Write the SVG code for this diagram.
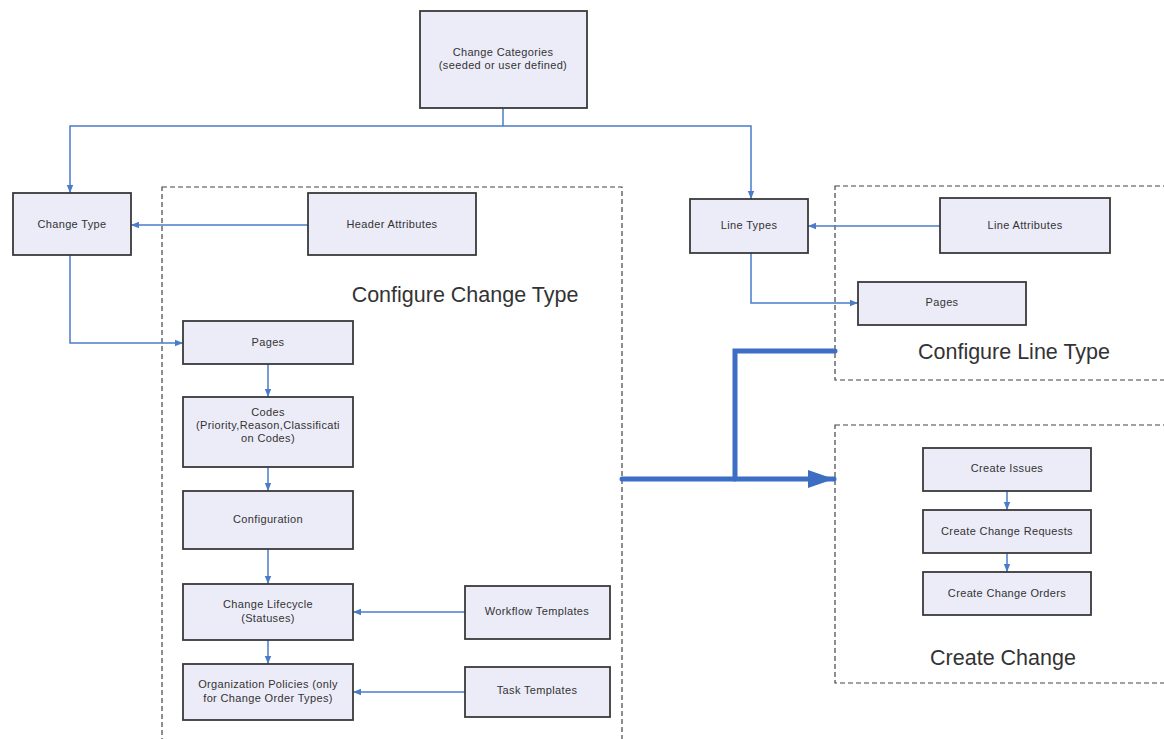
<svg xmlns="http://www.w3.org/2000/svg" width="1164" height="739" viewBox="0 0 1164 739">
<style>
.box{fill:#ececf8;stroke:#3a3a3a;stroke-width:1.8}
.t{font-family:"Liberation Sans",Arial,sans-serif;font-size:11px;letter-spacing:0.35px;fill:#333;text-anchor:middle}
.big{font-family:"Liberation Sans",Arial,sans-serif;font-size:21.5px;fill:#333;text-anchor:middle}
.grp{fill:none;stroke:#444;stroke-width:1.2;stroke-dasharray:5 3}
.c{fill:none;stroke:#4a7cc8;stroke-width:1.5}
.thick{fill:none;stroke:#3c6fc4;stroke-width:5;stroke-linecap:round;stroke-linejoin:miter}
</style>
<defs>
<marker id="a" viewBox="0 0 10 10" refX="10" refY="5" markerWidth="8" markerHeight="8" orient="auto" markerUnits="userSpaceOnUse">
<path d="M0,1 L10,5 L0,9 z" fill="#4a7cc8"/>
</marker>
<marker id="A" viewBox="0 0 10 10" refX="10" refY="5" markerWidth="26" markerHeight="18" orient="auto" markerUnits="userSpaceOnUse" preserveAspectRatio="none">
<path d="M0,0 L10,5 L0,10 z" fill="#3c6fc4"/>
</marker>
</defs>
<rect width="1164" height="739" fill="#fff"/>

<g id="containers">
<rect id="cfg-change-type" class="grp" x="162" y="187" width="460" height="570"/>
<text class="big" x="465" y="302">Configure Change Type</text>
<rect id="cfg-line-type" class="grp" x="835" y="186" width="340" height="194"/>
<text class="big" x="1014" y="359">Configure Line Type</text>
<rect id="create-change" class="grp" x="835" y="425" width="340" height="258"/>
<text class="big" x="1003" y="665">Create Change</text>
</g>

<g id="connectors">
<path class="c" d="M503,108 V126"/>
<path class="c" d="M503,126 H70 V193" marker-end="url(#a)"/>
<path class="c" d="M503,126 H751 V199" marker-end="url(#a)"/>
<path class="c" d="M308,225 H131" marker-end="url(#a)"/>
<path class="c" d="M70,255 V343 H183" marker-end="url(#a)"/>
<path class="c" d="M268,364 V397" marker-end="url(#a)"/>
<path class="c" d="M268,467 V491" marker-end="url(#a)"/>
<path class="c" d="M268,549 V584" marker-end="url(#a)"/>
<path class="c" d="M268,640 V664" marker-end="url(#a)"/>
<path class="c" d="M465,612 H353" marker-end="url(#a)"/>
<path class="c" d="M465,692 H353" marker-end="url(#a)"/>
<path class="c" d="M940,226 H808" marker-end="url(#a)"/>
<path class="c" d="M751,253 V303 H858" marker-end="url(#a)"/>
<path class="c" d="M1007,491 V510" marker-end="url(#a)"/>
<path class="c" d="M1007,553 V572" marker-end="url(#a)"/>
<path class="thick" d="M622,479 H834" marker-end="url(#A)"/>
<path class="thick" d="M735,479 V351 H835"/>
</g>

<g id="change-categories"><rect class="box" x="420" y="11" width="167" height="97"/>
<text class="t" x="503" y="56">Change Categories</text><text class="t" x="503" y="69">(seeded or user defined)</text></g>
<g id="change-type"><rect class="box" x="13" y="193" width="118" height="62"/>
<text class="t" x="72" y="228">Change Type</text></g>
<g id="header-attributes"><rect class="box" x="308" y="193" width="168" height="62"/>
<text class="t" x="392" y="228">Header Attributes</text></g>
<g id="pages-left"><rect class="box" x="183" y="321" width="170" height="43"/>
<text class="t" x="268" y="346">Pages</text></g>
<g id="codes"><rect class="box" x="183" y="397" width="170" height="70"/>
<text class="t" x="268" y="416">Codes</text><text class="t" x="268" y="429">(Priority,Reason,Classificati</text><text class="t" x="268" y="442">on Codes)</text></g>
<g id="configuration"><rect class="box" x="183" y="491" width="170" height="58"/>
<text class="t" x="268" y="523">Configuration</text></g>
<g id="change-lifecycle"><rect class="box" x="183" y="584" width="170" height="56"/>
<text class="t" x="268" y="608">Change Lifecycle</text><text class="t" x="268" y="622">(Statuses)</text></g>
<g id="org-policies"><rect class="box" x="183" y="664" width="170" height="56"/>
<text class="t" x="268" y="688">Organization Policies (only</text><text class="t" x="268" y="702">for Change Order Types)</text></g>
<g id="workflow-templates"><rect class="box" x="465" y="586" width="145" height="53"/>
<text class="t" x="537" y="615">Workflow Templates</text></g>
<g id="task-templates"><rect class="box" x="465" y="667" width="145" height="50"/>
<text class="t" x="537" y="694">Task Templates</text></g>
<g id="line-types"><rect class="box" x="690" y="199" width="118" height="54"/>
<text class="t" x="749" y="229">Line Types</text></g>
<g id="line-attributes"><rect class="box" x="940" y="198" width="170" height="55"/>
<text class="t" x="1025" y="229">Line Attributes</text></g>
<g id="pages-right"><rect class="box" x="858" y="282" width="168" height="43"/>
<text class="t" x="942" y="306">Pages</text></g>
<g id="create-issues"><rect class="box" x="923" y="448" width="168" height="43"/>
<text class="t" x="1007" y="472">Create Issues</text></g>
<g id="create-change-requests"><rect class="box" x="923" y="510" width="168" height="43"/>
<text class="t" x="1007" y="535">Create Change Requests</text></g>
<g id="create-change-orders"><rect class="box" x="923" y="572" width="168" height="43"/>
<text class="t" x="1007" y="597">Create Change Orders</text></g>
</svg>
